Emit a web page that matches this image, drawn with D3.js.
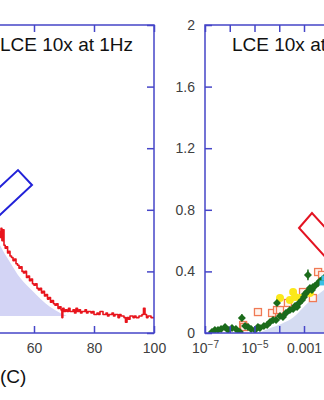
<!DOCTYPE html>
<html>
<head>
<meta charset="utf-8">
<script src="https://cdn.jsdelivr.net/npm/d3@7"></script>
<style>
  html, body { margin: 0; padding: 0; background: #fff; }
  svg { display: block; font-family: "Liberation Sans", Arial, sans-serif; }
</style>
</head>
<body>
<div id="chart"></div>
<script>
// ---- data ----
// left panel: red trace (temperature C, value)
var leftTrace = [
  [48.0,0.66],[48.5,0.62],[49.0,0.68],[49.3,0.60],[49.7,0.67],[50.0,0.57],[50.4,0.55],[50.8,0.56],
  [51.2,0.52],[51.6,0.53],[52.0,0.50],[52.5,0.49],[53.0,0.47],[53.5,0.48],[54.0,0.45],[54.5,0.44],
  [55.0,0.42],[55.5,0.43],[56.0,0.40],[56.5,0.39],[57.0,0.40],[57.5,0.36],[58.0,0.37],[58.5,0.34],
  [59.0,0.35],[59.5,0.32],[60.0,0.31],[60.5,0.32],[61.0,0.29],[61.5,0.28],[62.0,0.29],[62.5,0.26],
  [63.0,0.27],[63.5,0.24],[64.0,0.25],[64.5,0.22],[65.0,0.23],[65.5,0.20],[66.0,0.21],[66.5,0.19],
  [67.0,0.18],[67.5,0.19],[68.0,0.16],[68.5,0.17],[69.0,0.15],[69.3,0.10],[69.6,0.16],[70.0,0.14],
  [70.5,0.15],[71.0,0.14],[71.5,0.16],[72.0,0.14],[73.0,0.15],[73.5,0.13],[74.0,0.16],[74.5,0.14],
  [75.0,0.15],[75.5,0.13],[76.0,0.14],[77.0,0.15],[77.5,0.13],[78.0,0.14],[79.0,0.13],[79.5,0.14],
  [80.0,0.12],[81.0,0.13],[81.5,0.12],[82.0,0.14],[83.0,0.12],[84.0,0.13],[84.5,0.11],[85.0,0.12],
  [86.0,0.13],[86.5,0.11],[87.0,0.12],[88.0,0.10],[88.5,0.12],[89.0,0.11],[90.0,0.10],[90.5,0.07],
  [91.0,0.10],[91.5,0.09],[92.0,0.11],[93.0,0.10],[93.5,0.11],[94.0,0.10],[95.0,0.11],[96.0,0.12],
  [96.5,0.16],[97.0,0.12],[97.5,0.10],[98.0,0.11],[99.0,0.10],[100.0,0.10]
];
// left panel: shaded band (temperature, top value) above a flat base
var leftShade = [[40,0.95],[45,0.75],[48.7,0.57],[52,0.46],[55.3,0.36],[59.7,0.27],[65.3,0.17],[68.7,0.13],[71,0.11]];
var leftShadeBase = 0.11;
var leftTicks = [60, 80, 100];

// right panel: log10(x) and value
var greenPts = [
  [-6.72,0.006],[-6.60,0.019],[-6.475,0.019],[-6.35,0.026],[-6.19,0.039],[-6.07,0.019],[-5.91,0.032],
  [-5.75,0.026],[-5.59,0.006],[-5.51,0.097],[-5.38,0.045],[-5.26,0.039],[-5.14,0.026],[-4.98,0.019],
  [-4.86,0.039],[-4.78,0.032],[-4.62,0.045],[-4.49,0.052],[-4.37,0.071],[-4.25,0.084],[-4.13,0.084],
  [-4.09,0.195],[-3.97,0.11],[-3.85,0.104],[-3.73,0.13],[-3.57,0.149],[-3.44,0.156],[-3.36,0.175],
  [-3.28,0.169],[-3.20,0.195],[-3.08,0.214],[-3.00,0.234],[-2.96,0.253],[-2.88,0.266],[-2.84,0.377],
  [-2.76,0.292],[-2.68,0.279],[-2.64,0.299],[-2.56,0.305],[-2.43,0.325],[-2.35,0.338],[-2.27,0.344],[-2.19,0.357]
];
var greenErr = [
  [-5.51,0.097,0.025],[-4.09,0.195,0.03],[-2.84,0.377,0.035],[-6.19,0.039,0.02]
];
var orangePts = [
  [-5.46,0.052],[-5.42,0.039],[-4.86,0.136],[-4.29,0.13],[-4.09,0.149],[-3.97,0.149],[-3.65,0.195],
  [-3.04,0.266],[-2.64,0.227],[-2.43,0.396],[-2.27,0.377]
];
var yellowPts = [[-3.97,0.227],[-3.57,0.214],[-3.44,0.266],[-3.36,0.234],[-3.16,0.227],[-2.76,0.26]];
var cyanPts = [[-2.27,0.325],[-2.19,0.357]];
var rightShade = [[-4.85,0],[-4.4,0.03],[-3.9,0.06],[-3.44,0.1],[-3.0,0.17],[-2.76,0.21],[-2.2,0.28],[-1.5,0.38],[-1,0.45]];
var logTicks = [1e-7,1e-6,1e-5,1e-4,1e-3];
var yTicks = [0, 0.4, 0.8, 1.2, 1.6, 2];

// annotation boxes, corners in data units
var blueBox = [[54.67,1.058],[59.33,0.961],[39.33,0.597],[34.67,0.694]];
var redBox = [[6.3e-4,0.682],[2.1e-3,0.779],[0.22,0.422],[0.066,0.325]];

var titleText = "LCE 10x at 1Hz";

// ---- drawing ----
var W = 324, H = 400;
var axisColor = "#4646c8";
var plotTop = 25, plotBot = 333;

var svg = d3.select("#chart").append("svg")
  .attr("width", W)
  .attr("height", H);

var y = d3.scaleLinear().domain([0, 2]).range([plotBot, plotTop]);
var xL = d3.scaleLinear().domain([0, 100]).range([-146, 154]);
var xR = d3.scaleLog().domain([1e-7, 10]).range([205, 403]);

var defs = svg.append("defs");
defs.append("clipPath").attr("id", "clipL").append("rect")
  .attr("x", xL(0)).attr("y", plotTop).attr("width", xL(100) - xL(0)).attr("height", plotBot - plotTop);
defs.append("clipPath").attr("id", "clipR").append("rect")
  .attr("x", xR(1e-7)).attr("y", plotTop).attr("width", xR(10) - xR(1e-7)).attr("height", plotBot - plotTop);

// left panel
var gL = svg.append("g").attr("clip-path", "url(#clipL)");

gL.append("path")
  .datum(leftShade)
  .attr("fill", "#d3d4f5")
  .attr("d", d3.area()
    .x(d => xL(d[0]))
    .y0(y(leftShadeBase))
    .y1(d => y(d[1]))
    .curve(d3.curveMonotoneX));

gL.append("path")
  .datum(leftTrace)
  .attr("fill", "none")
  .attr("stroke", "#e8141c")
  .attr("stroke-width", 1.6)
  .attr("stroke-linejoin", "round")
  .attr("d", d3.line().x(d => xL(d[0])).y(d => y(d[1])).curve(d3.curveStepAfter));

gL.append("polygon")
  .attr("points", blueBox.map(d => xL(d[0]) + "," + y(d[1])).join(" "))
  .attr("fill", "none")
  .attr("stroke", "#2222d8")
  .attr("stroke-width", 2);

// axis styling shared by both panels
var styleAxis = function(g) {
  g.attr("font-family", null);
  g.select(".domain").remove();
  g.selectAll(".tick line").attr("stroke", axisColor).attr("stroke-width", 1.5);
  g.selectAll(".tick text").attr("fill", "#404040").attr("font-size", 14);
};

svg.append("g")
  .attr("transform", "translate(0," + plotBot + ")")
  .call(d3.axisBottom(xL).tickValues(leftTicks).tickSizeInner(-7).tickSizeOuter(0).tickPadding(10))
  .call(styleAxis);
svg.append("g")
  .attr("transform", "translate(0," + plotTop + ")")
  .call(d3.axisTop(xL).tickValues(leftTicks).tickSizeInner(-7).tickSizeOuter(0).tickFormat(""))
  .call(styleAxis);
svg.append("g")
  .attr("transform", "translate(" + xL(100) + ",0)")
  .call(d3.axisRight(y).tickValues(yTicks).tickSizeInner(-7).tickSizeOuter(0).tickFormat(""))
  .call(styleAxis);

svg.append("rect")
  .attr("x", xL(0)).attr("y", plotTop)
  .attr("width", xL(100) - xL(0)).attr("height", plotBot - plotTop)
  .attr("fill", "none")
  .attr("stroke", axisColor)
  .attr("stroke-width", 1.5);

svg.append("text")
  .attr("x", 0).attr("y", 51)
  .attr("font-size", 19)
  .attr("fill", "#111")
  .text(titleText);

svg.append("text")
  .attr("x", 0).attr("y", 383)
  .attr("font-size", 19)
  .attr("fill", "#111")
  .text("(C)");

// right panel
var gR = svg.append("g").attr("clip-path", "url(#clipR)");

gR.append("path")
  .datum(rightShade)
  .attr("fill", "#d5dcf2")
  .attr("d", d3.area()
    .x(d => xR(Math.pow(10, d[0])))
    .y0(y(0))
    .y1(d => y(d[1]))
    .curve(d3.curveMonotoneX));

var px = d => xR(Math.pow(10, d[0]));

gR.selectAll(".err")
  .data(greenErr)
  .enter().append("line")
  .attr("class", "err")
  .attr("x1", px).attr("x2", px)
  .attr("y1", d => y(d[1] - d[2])).attr("y2", d => y(d[1] + d[2]))
  .attr("stroke", "#1b6b1b")
  .attr("stroke-width", 1.5);

gR.selectAll(".org")
  .data(orangePts)
  .enter().append("rect")
  .attr("class", "org")
  .attr("x", d => px(d) - 3.5).attr("y", d => y(d[1]) - 3.5)
  .attr("width", 7).attr("height", 7)
  .attr("fill", "#fff4ee")
  .attr("stroke", "#f07a55")
  .attr("stroke-width", 1.3);

gR.selectAll(".yel")
  .data(yellowPts)
  .enter().append("circle")
  .attr("class", "yel")
  .attr("cx", px).attr("cy", d => y(d[1]))
  .attr("r", 4)
  .attr("fill", "#fbe81a");

gR.selectAll(".grn")
  .data(greenPts)
  .enter().append("path")
  .attr("class", "grn")
  .attr("transform", d => "translate(" + px(d) + "," + y(d[1]) + ") rotate(45)")
  .attr("d", d3.symbol().type(d3.symbolSquare).size(32))
  .attr("fill", "#1b6b1b");

gR.selectAll(".cyn")
  .data(cyanPts)
  .enter().append("rect")
  .attr("class", "cyn")
  .attr("x", d => px(d) - 2.5).attr("y", d => y(d[1]) - 2.5)
  .attr("width", 5).attr("height", 5)
  .attr("fill", "#3cc0e6");

gR.append("polygon")
  .attr("points", redBox.map(d => xR(d[0]) + "," + y(d[1])).join(" "))
  .attr("fill", "none")
  .attr("stroke", "#e31422")
  .attr("stroke-width", 2);

// right axes
var bx = svg.append("g")
  .attr("transform", "translate(0," + plotBot + ")")
  .call(d3.axisBottom(xR).tickValues(logTicks).tickSizeInner(-7).tickSizeOuter(0).tickPadding(10).tickFormat(d => d3.format("~g")(d)))
  .call(styleAxis);
bx.selectAll(".tick text").each(function(d) {
  var e = Math.round(Math.log10(d));
  var t = d3.select(this);
  t.text(null);
  if (e % 2 === 0) return;
  if (e <= -4) {
    t.append("tspan").text("10");
    t.append("tspan").attr("dy", "-0.45em").attr("font-size", 10).text(String(e).replace("-", "\u2212"));
  } else {
    t.text(d3.format("~g")(d));
  }
});

svg.append("g")
  .attr("transform", "translate(0," + plotTop + ")")
  .call(d3.axisTop(xR).tickValues(logTicks).tickSizeInner(-7).tickSizeOuter(0).tickFormat(""))
  .call(styleAxis);

svg.append("g")
  .attr("transform", "translate(" + xR(1e-7) + ",0)")
  .call(d3.axisLeft(y).tickValues(yTicks).tickSizeInner(-7).tickSizeOuter(0).tickPadding(10).tickFormat(d3.format("~g")))
  .call(styleAxis);

svg.append("rect")
  .attr("x", xR(1e-7)).attr("y", plotTop)
  .attr("width", xR(10) - xR(1e-7)).attr("height", plotBot - plotTop)
  .attr("fill", "none")
  .attr("stroke", axisColor)
  .attr("stroke-width", 1.5);

svg.append("text")
  .attr("x", 232).attr("y", 51)
  .attr("font-size", 19)
  .attr("fill", "#111")
  .text(titleText);
</script>
</body>
</html>
